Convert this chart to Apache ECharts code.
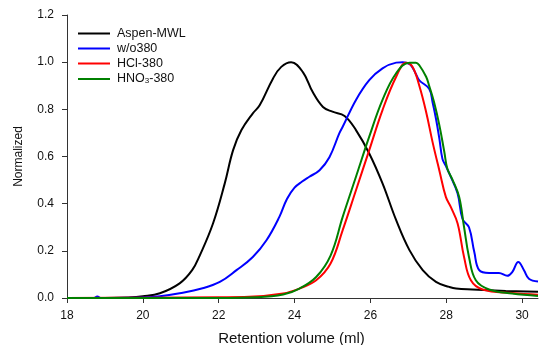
<!DOCTYPE html>
<html>
<head>
<meta charset="utf-8">
<script src="https://cdn.jsdelivr.net/npm/echarts@6/dist/echarts.min.js"></script>
<style>
html,body{margin:0;padding:0;background:#fff;}
#c{width:539px;height:345px;}
</style>
</head>
<body>
<div id="c"></div>
<script>
// Data: [retention volume (ml), normalized]
const seriesNames = ['Aspen-MWL', 'w/o380', 'HCl-380', 'HNO3-380'];
const xTicks = [18, 20, 22, 24, 26, 28, 30];
const yTicks = [0, 0.2, 0.4, 0.6, 0.8, 1.0, 1.2];

const aspenMWL = [
  [18.0,0.0],[19.0,0.0],[19.6,0.002],[20.0,0.007],[20.45,0.02],[20.97,0.062],[21.3,0.118],
  [21.5,0.18],[21.85,0.316],[22.16,0.486],[22.38,0.627],[22.6,0.712],[22.9,0.783],
  [23.08,0.817],[23.43,0.93],[23.65,0.98],[23.91,1.0],[24.22,0.958],[24.48,0.873],
  [24.75,0.81],[25.0,0.79],[25.32,0.772],[25.62,0.712],[25.97,0.613],[26.32,0.486],
  [26.68,0.33],[27.03,0.203],[27.38,0.118],[27.73,0.068],[28.08,0.047],[28.26,0.04],
  [28.69,0.036],[29.57,0.03],[30.42,0.026]
];
const wo380 = [
  [18.0,0.0],[18.7,0.0],[18.8,0.006],[18.9,0.0],[20.0,0.002],[20.45,0.007],[20.97,0.02],
  [21.55,0.04],[22.03,0.068],[22.47,0.118],[22.9,0.174],[23.26,0.245],[23.6,0.344],
  [23.8,0.42],[24.0,0.468],[24.2,0.494],[24.39,0.514],[24.66,0.542],[24.92,0.597],[25.18,0.698],
  [25.27,0.726],[25.62,0.84],[25.97,0.924],[26.32,0.974],[26.68,0.998],[26.85,1.0],
  [27.05,0.99],[27.2,0.95],[27.29,0.923],[27.55,0.887],[27.64,0.83],[27.73,0.76],
  [27.82,0.675],[27.9,0.59],[27.99,0.56],[28.08,0.528],[28.3,0.443],[28.43,0.335],
  [28.6,0.3],[28.74,0.195],[28.87,0.118],[29.13,0.106],[29.39,0.106],[29.61,0.094],
  [29.74,0.11],[29.9,0.153],[30.05,0.118],[30.18,0.082],[30.42,0.07]
];
const hcl380 = [
  [18.0,0.0],[20.0,0.001],[22.0,0.003],[22.8,0.005],[23.7,0.019],[24.13,0.04],[24.57,0.075],
  [24.95,0.146],[25.27,0.288],[25.62,0.457],[25.97,0.627],[26.32,0.797],[26.68,0.938],
  [26.94,0.998],[27.11,0.981],[27.29,0.9],[27.47,0.789],[27.64,0.661],[27.82,0.54],
  [27.99,0.429],[28.12,0.386],[28.3,0.316],[28.47,0.174],[28.65,0.075],
  [28.96,0.036],[29.74,0.021],[30.42,0.014]
];
const hno3380 = [
  [18.0,0.0],[22.0,0.0],[23.0,0.003],[23.7,0.015],[24.13,0.04],[24.57,0.089],[24.95,0.18],
  [25.27,0.344],[25.62,0.514],[25.97,0.684],[26.32,0.84],[26.68,0.953],[27.03,0.998],
  [27.2,0.998],[27.29,0.987],[27.47,0.938],[27.55,0.9],[27.68,0.83],[27.82,0.732],
  [27.95,0.619],[28.03,0.548],[28.17,0.5],[28.34,0.429],[28.47,0.301],[28.6,0.174],
  [28.78,0.075],[29.13,0.036],[29.74,0.019],[30.42,0.009]
];

const colors = ['#000000', '#0000ff', '#ff0000', '#008000'];
const datasets = [aspenMWL, wo380, hcl380, hno3380];
const FONT = "'Liberation Sans', Arial, sans-serif";

const chart = echarts.init(document.getElementById('c'), null, {renderer: 'canvas'});
chart.setOption({
  animation: false,
  backgroundColor: '#ffffff',
  textStyle: {fontFamily: FONT},
  grid: {left: 67, top: 15, right: 1, bottom: 47, containLabel: false, outerBoundsMode: 'none'},
  legend: {
    orient: 'vertical',
    left: 78,
    top: 27,
    padding: 0,
    icon: 'rect',
    itemWidth: 32,
    itemHeight: 2,
    itemGap: 2,
    data: seriesNames,
    formatter: function (name) {
      if (name === 'HNO3-380') return 'HNO{sub|3}-380';
      return name;
    },
    textStyle: {
      fontFamily: FONT, fontSize: 12.5, lineHeight: 12, color: '#111', padding: [0, 0, 0, 2],
      rich: {sub: {fontSize: 8, lineHeight: 12, verticalAlign: 'bottom', padding: [5, 0, 0, 0], fontFamily: FONT, color: '#111'}}
    }
  },
  xAxis: {
    type: 'value',
    min: 18,
    max: 30.42,
    interval: 2,
    name: 'Retention volume (ml)',
    nameLocation: 'middle',
    nameGap: 33,
    nameTextStyle: {fontSize: 15, color: '#111', fontFamily: FONT, padding: [0, 22, 0, 0]},
    axisLine: {lineStyle: {color: '#333', width: 1}},
    axisTick: {show: true, length: 5, inside: false, customValues: xTicks, lineStyle: {color: '#333'}},
    axisLabel: {customValues: xTicks, fontSize: 12, color: '#111', margin: 12, fontFamily: FONT},
    splitLine: {show: false}
  },
  yAxis: {
    type: 'value',
    min: 0,
    max: 1.2,
    interval: 0.2,
    name: 'Normalized',
    nameLocation: 'middle',
    nameGap: 42,
    nameTextStyle: {fontSize: 12, color: '#111', fontFamily: FONT},
    axisLine: {show: true, lineStyle: {color: '#333', width: 1}},
    axisTick: {show: true, length: 5, inside: false, lineStyle: {color: '#333'}},
    axisLabel: {fontSize: 12, color: '#111', margin: 13, fontFamily: FONT,
      formatter: function (v) { return v.toFixed(1); }},
    splitLine: {show: false}
  },
  series: datasets.map(function (d, i) {
    return {
      name: seriesNames[i],
      type: 'line',
      data: d,
      symbol: 'none',
      smooth: 0.4,
      color: colors[i],
      lineStyle: {color: colors[i], width: 2},
      z: 2 + i
    };
  })
});
</script>
</body>
</html>
